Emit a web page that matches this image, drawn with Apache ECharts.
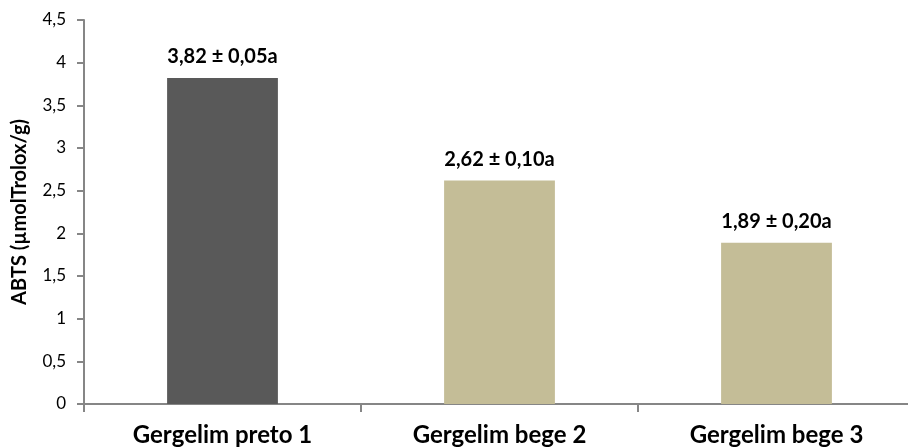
<!DOCTYPE html>
<html>
<head>
<meta charset="utf-8">
<script src="https://cdn.jsdelivr.net/npm/echarts@6/dist/echarts.min.js"></script>
<style>
  html, body { margin: 0; padding: 0; background: #fff; }
  #chart { width: 908px; height: 447px; }
</style>
</head>
<body>
<div id="chart"></div>
<script>
// Antioxidant capacity (ABTS) per sesame sample
var categories = ['Gergelim preto 1', 'Gergelim bege 2', 'Gergelim bege 3'];
var means = [3.82, 2.62, 1.89];
var deviations = ['0,05', '0,10', '0,20'];
var letters = ['a', 'a', 'a'];
var barColors = ['#595959', '#C4BD97', '#C4BD97'];

var fontFamily = 'Lato, "Open Sans", sans-serif';

function comma(v) {
  return String(v).replace('.', ',');
}

var chart = echarts.init(document.getElementById('chart'));
chart.setOption({
  animation: false,
  // the category axis runs slightly past the right edge of the canvas
  grid: { left: 84, width: 831, top: 20, bottom: 43, containLabel: false, outerBoundsMode: 'none' },
  xAxis: {
    type: 'category',
    data: categories,
    axisLine: { lineStyle: { color: '#868686', width: 2 } },
    axisTick: { show: true, length: 8, lineStyle: { color: '#868686', width: 2 } },
    axisLabel: {
      color: '#000', fontSize: 24, fontWeight: 'bold', fontFamily: fontFamily, margin: 19
    }
  },
  yAxis: {
    type: 'value',
    min: 0, max: 4.5, interval: 0.5,
    name: 'ABTS (µmolTrolox/g)',
    nameLocation: 'middle',
    nameGap: 54,
    nameTextStyle: { color: '#000', fontSize: 20, fontWeight: 'bold', fontFamily: fontFamily },
    axisLine: { show: true, lineStyle: { color: '#868686', width: 2 } },
    axisTick: { show: true, length: 7, lineStyle: { color: '#868686', width: 2 } },
    splitLine: { show: false },
    axisLabel: {
      color: '#000', fontSize: 17, fontFamily: fontFamily, margin: 18,
      formatter: function (v) { return comma(v); }
    }
  },
  series: [{
    type: 'bar',
    barWidth: '40%',
    data: means.map(function (v, i) {
      return { value: v, itemStyle: { color: barColors[i] } };
    }),
    label: {
      show: true,
      position: 'top',
      distance: 11,
      color: '#000',
      fontSize: 20,
      fontWeight: 'bold',
      fontFamily: fontFamily,
      formatter: function (p) {
        var v = means[p.dataIndex].toFixed(2);
        return comma(v) + ' ± ' + deviations[p.dataIndex] + letters[p.dataIndex];
      }
    }
  }]
});
</script>
</body>
</html>
